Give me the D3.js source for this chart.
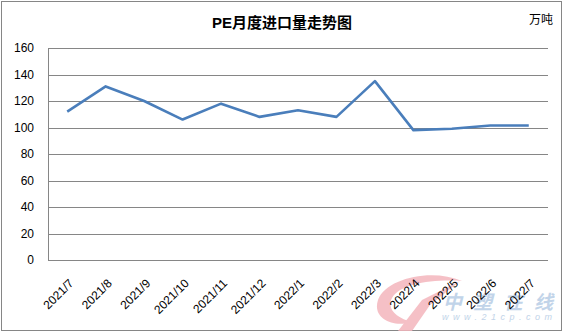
<!DOCTYPE html>
<html>
<head>
<meta charset="utf-8">
<script src="https://cdn.jsdelivr.net/npm/d3@7"></script>
<style>
  body { margin: 0; background: #fff; }
  text { font-family: "Liberation Sans", "Noto Sans CJK SC", sans-serif; }
</style>
</head>
<body>
<div id="chart"></div>
<script>
const width = 564;
const height = 333;

// data
const months = ["2021/7", "2021/8", "2021/9", "2021/10", "2021/11", "2021/12",
                "2022/1", "2022/2", "2022/3", "2022/4", "2022/5", "2022/6", "2022/7"];
const imports = [112, 131, 120, 106, 118, 108, 113, 108, 135, 98, 99, 101.5, 101.5];
const yTicks = [0, 20, 40, 60, 80, 100, 120, 140, 160];

const plot = { left: 48, right: 548, top: 48, bottom: 260 };

const svg = d3.select("#chart").append("svg")
    .attr("width", width)
    .attr("height", height);

// outer frame
svg.append("rect")
    .attr("x", 1.5).attr("y", 1.5)
    .attr("width", 560).attr("height", 329)
    .attr("fill", "#fff")
    .attr("stroke", "#868686");

const x = d3.scaleBand()
    .domain(months)
    .range([plot.left, plot.right]);

const y = d3.scaleLinear()
    .domain([0, 160])
    .range([plot.bottom, plot.top]);

// gridlines
svg.append("g")
    .selectAll("line")
    .data(yTicks)
    .join("line")
    .attr("x1", plot.left)
    .attr("x2", plot.right)
    .attr("y1", d => Math.round(y(d)) + 0.5)
    .attr("y2", d => Math.round(y(d)) + 0.5)
    .attr("stroke", "#868686");

// y axis line
svg.append("line")
    .attr("x1", plot.left + 0.5).attr("x2", plot.left + 0.5)
    .attr("y1", plot.top).attr("y2", plot.bottom)
    .attr("stroke", "#868686");

// y labels
svg.append("g")
    .selectAll("text")
    .data(yTicks)
    .join("text")
    .attr("x", 34)
    .attr("y", d => y(d) + 4)
    .attr("text-anchor", "end")
    .attr("font-size", 12)
    .attr("fill", "#000")
    .text(d => d);

// watermark (drawn under the labels)
const wm = svg.append("g").attr("opacity", 0.85);
wm.append("path")
    .attr("d", "M462,281 C432,268 386,278 378,300 C372,318 392,328 412,322 C398,318 386,310 392,298 C400,284 432,279 462,281 Z")
    .attr("fill", "#f4b6bd");
wm.append("path")
    .attr("d", "M460,281 L422,300 L398,331 L412,331 L430,305 Z")
    .attr("fill", "#f4b6bd");
wm.append("text")
    .attr("x", 443).attr("y", 309)
    .attr("font-size", 19)
    .attr("font-style", "italic")
    .attr("font-weight", "bold")
    .attr("fill", "#b7cde6")
    .attr("textLength", 110)
    .text("中塑在线");
wm.append("text")
    .attr("x", 442).attr("y", 320)
    .attr("font-size", 9)
    .attr("font-style", "italic")
    .attr("fill", "#b7cde6")
    .attr("textLength", 110)
    .text("www.21cp.com");

// x labels, rotated
svg.append("g")
    .selectAll("text")
    .data(months)
    .join("text")
    .attr("transform", d => `translate(${x(d) + x.bandwidth() / 2 + 7}, ${plot.bottom + 24}) rotate(-45)`)
    .attr("text-anchor", "end")
    .attr("font-size", 12)
    .attr("fill", "#000")
    .text(d => d);

// line
const line = d3.line()
    .x((d, i) => x(months[i]) + x.bandwidth() / 2)
    .y(d => y(d));

svg.append("path")
    .datum(imports)
    .attr("d", line)
    .attr("fill", "none")
    .attr("stroke", "#4a7ebb")
    .attr("stroke-width", 2.6)
    .attr("stroke-linejoin", "round");

// title and unit
svg.append("text")
    .attr("x", 282).attr("y", 28)
    .attr("text-anchor", "middle")
    .attr("font-size", 15)
    .attr("font-weight", "bold")
    .attr("font-family", "'Liberation Serif', 'Noto Sans CJK SC', serif")
    .text("PE月度进口量走势图");

svg.append("text")
    .attr("x", 553).attr("y", 24)
    .attr("text-anchor", "end")
    .attr("font-size", 12)
    .text("万吨");
</script>
</body>
</html>
